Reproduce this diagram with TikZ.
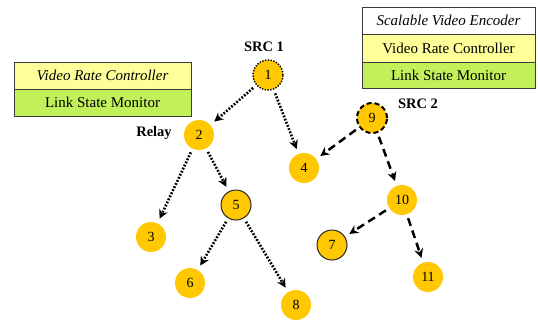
\documentclass[tikz,border=0pt]{standalone}
\usepackage{fontspec}
\setmainfont{Liberation Serif}
\usetikzlibrary{arrows.meta}
\definecolor{gold}{HTML}{FFC800}
\definecolor{paleyel}{HTML}{FFFF99}
\definecolor{limegr}{HTML}{C2F05A}
\definecolor{edgegray}{HTML}{3A3A3A}
\tikzset{
  nd/.style={circle, fill=gold, minimum size=30pt, inner sep=0pt, font=\fontsize{14}{15}\selectfont},
  ndsolid/.style={nd, draw=black!85, line width=1pt},
  lbl/.style={font=\fontsize{14.5}{16}\selectfont\bfseries},
  boxrow/.style={draw=edgegray, line width=0.8pt, inner sep=0pt, font=\fontsize{15}{16}\selectfont},
  dotarr/.style={line width=2.6pt, dash pattern=on 1.8pt off 1.6pt, -{Stealth[length=9pt,width=9pt]}, shorten >=5pt, shorten <=4pt},
  dasharr/.style={line width=2.5pt, dash pattern=on 8pt off 5pt, -{Stealth[length=9pt,width=9pt]}, shorten >=5pt, shorten <=4pt}
}
\begin{document}
\begin{tikzpicture}[x=1pt,y=-1pt]
\useasboundingbox (0,0) rectangle (538,322);
% left box
\node[boxrow, fill=paleyel, minimum width=177pt, minimum height=27pt] (lvrc) at (102.5,75.5) {\itshape Video Rate Controller};
\node[boxrow, fill=limegr, minimum width=177pt, minimum height=27pt] (llsm) at (102.5,102.5) {Link State Monitor};
% right box
\node[boxrow, fill=white, minimum width=173pt, minimum height=27pt] (rsve) at (448.5,20.5) {\itshape Scalable Video Encoder};
\node[boxrow, fill=paleyel, minimum width=173pt, minimum height=28pt] (rvrc) at (448.5,48) {Video Rate Controller};
\node[boxrow, fill=limegr, minimum width=173pt, minimum height=26pt] (rlsm) at (448.5,75) {Link State Monitor};
% nodes
\node[nd, draw=black, line width=1.4pt, dash pattern=on 1.4pt off 1.4pt] (n1) at (268,75) {1};
\node[nd] (n2) at (199,135) {2};
\node[nd] (n3) at (151,237) {3};
\node[nd] (n4) at (304,168) {4};
\node[ndsolid] (n5) at (236,205) {5};
\node[nd] (n6) at (190,283) {6};
\node[ndsolid] (n7) at (332,245) {7};
\node[nd] (n8) at (296,305) {8};
\node[nd, draw=black, line width=2pt, dash pattern=on 5pt off 3pt] (n9) at (372,118) {9};
\node[nd] (n10) at (402,200) {10};
\node[nd] (n11) at (428,277) {11};
% labels
\node[lbl] (s1) at (264,47) {SRC 1};
\node[lbl] (s2) at (418,104) {SRC 2};
\node[lbl] (rel) at (154,133) {Relay};
% arrows
\draw[dotarr] (n1) -- (n2);
\draw[dotarr] (n1) -- (n4);
\draw[dotarr] (n2) -- (n3);
\draw[dotarr] (n2) -- (n5);
\draw[dotarr] (n5) -- (n6);
\draw[dotarr] (n5) -- (n8);
\draw[dasharr] (n9) -- (n4);
\draw[dasharr] (n9) -- (n10);
\draw[dasharr] (n10) -- (n7);
\draw[dasharr] (n10) -- (n11);
\end{tikzpicture}
\end{document}
